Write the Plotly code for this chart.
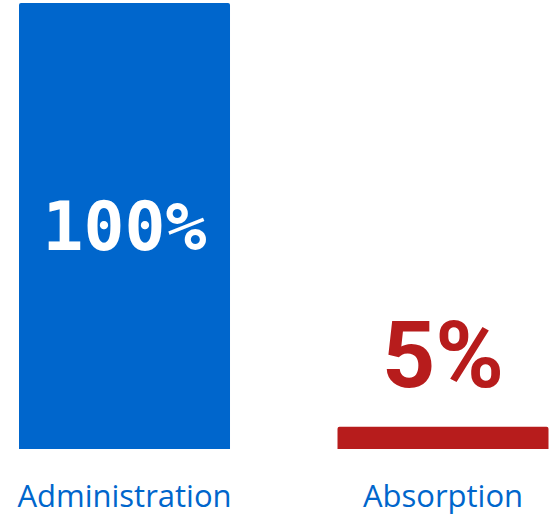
import plotly.graph_objects as go

categories = ["Administration", "Absorption"]
values = [100, 5]
labels = ["100%", "5%"]
colors = ["#0066CC", "#B71C1C"]

fig = go.Figure(go.Bar(
    x=categories,
    y=values,
    width=0.6625,
    marker=dict(color=colors, line=dict(width=0)),
    text=[labels[0], ""],
    textposition=["inside", "none"],
    insidetextanchor="middle",
    insidetextfont=dict(family="DejaVu Sans Mono", size=68, color="white", weight="bold"),
    cliponaxis=False,
    hoverinfo="skip",
))

fig.add_annotation(
    x=categories[1], y=values[1], text=labels[1],
    showarrow=False, yanchor="bottom", yshift=15,
    font=dict(family="Roboto", size=93, color=colors[1], weight="bold"),
)

fig.update_layout(
    width=549, height=516,
    margin=dict(l=0, r=0, t=3, b=64),
    paper_bgcolor="white", plot_bgcolor="white",
    showlegend=False,
    barcornerradius=2,
    xaxis=dict(range=[-0.3909, 1.3328], showgrid=False, zeroline=False, showline=False,
               ticks="outside", ticklen=20, tickcolor="rgba(0,0,0,0)",
               tickfont=dict(family="Open Sans", size=31, color="#0066CC")),
    yaxis=dict(range=[0, 100], visible=False, showgrid=False, zeroline=False),
)

fig.write_html("out.html", config={"displayModeBar": False},
               post_script="document.body.style.margin='0';")
